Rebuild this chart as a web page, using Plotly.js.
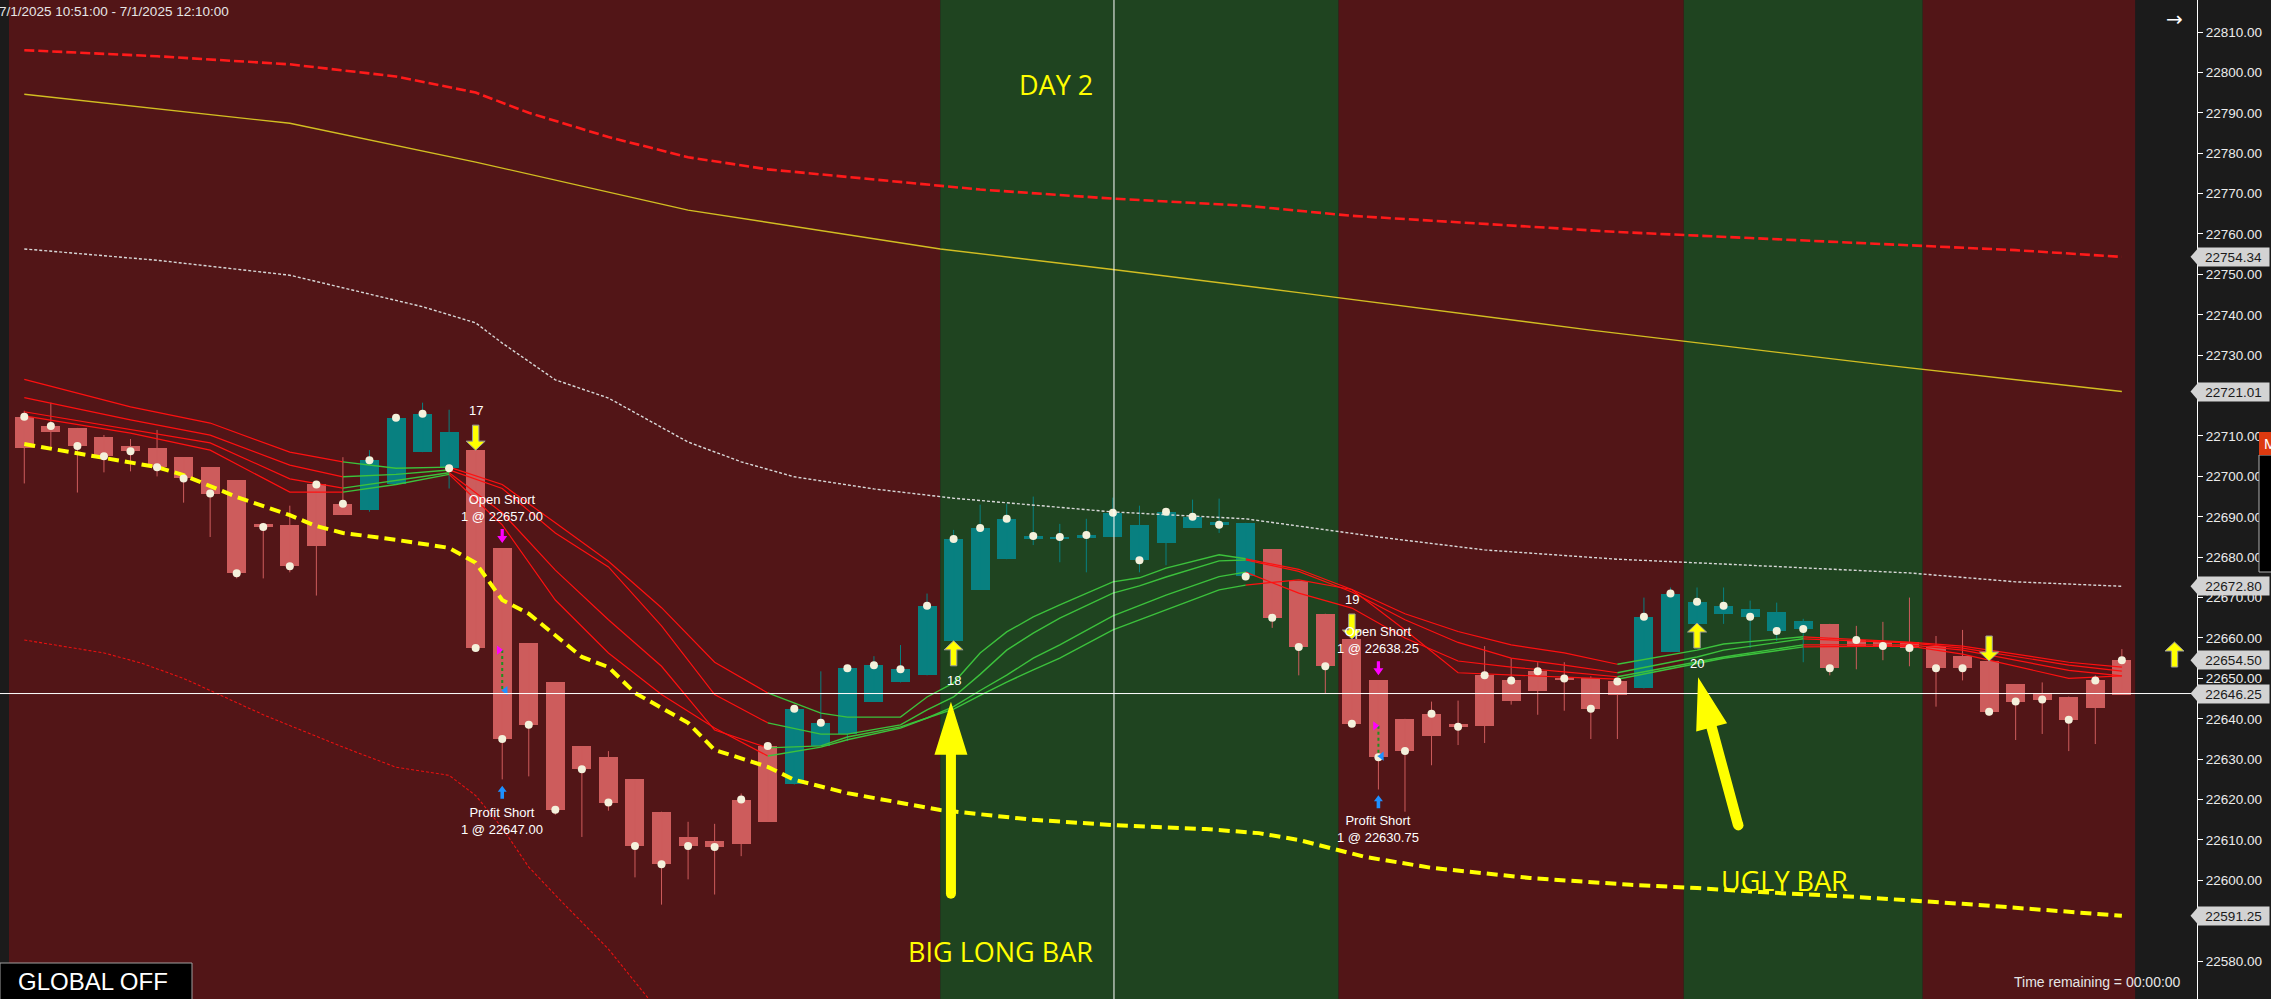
<!DOCTYPE html>
<html><head><meta charset="utf-8">
<script src="https://cdn.plot.ly/plotly-3.0.1.min.js"></script>
<style>html,body{margin:0;padding:0;background:#1b1b1b;overflow:hidden}#chart{width:2271px;height:999px}</style>
</head><body><div id="chart"></div>
<script>
// ---------------- DATA ----------------
const times = ["10:51","10:52","10:53","10:54","10:55","10:56","10:57","10:58","10:59","11:00",
"11:01","11:02","11:03","11:04","11:05","11:06","11:07","11:08","11:09","11:10",
"11:11","11:12","11:13","11:14","11:15","11:16","11:17","11:18","11:19","11:20",
"11:21","11:22","11:23","11:24","11:25","11:26","11:27","11:28","11:29","11:30",
"11:31","11:32","11:33","11:34","11:35","11:36","11:37","11:38","11:39","11:40",
"11:41","11:42","11:43","11:44","11:45","11:46","11:47","11:48","11:49","11:50",
"11:51","11:52","11:53","11:54","11:55","11:56","11:57","11:58","11:59","12:00",
"12:01","12:02","12:03","12:04","12:05","12:06","12:07","12:08","12:09","12:10"];
const openP = [22707,22711,22712,22709.75,22707.5,22707,22704.75,22702.25,22699,22688.25,
22688,22682.75,22690.5,22691.75,22698,22706,22711,22706.5,22682.25,22658.75,
22649,22633.25,22630.5,22625,22617,22610.75,22609.75,22609,22614.5,22623.75,
22633.25,22636.25,22644.25,22649,22650.75,22659.25,22672,22679.5,22684.5,22684.5,
22684.75,22685,22688,22683.5,22687.25,22688.75,22688.5,22682,22674,22666,
22659.75,22649.5,22640,22635.75,22638.75,22638.25,22644.5,22647,22649.5,22650,
22646,22647.5,22656.5,22663.5,22666,22667.25,22666.5,22664.25,22663.5,22657.75,
22659,22659,22658,22655.5,22654.25,22648.5,22646.5,22645.5,22642.75,22646];
const highP = [22716.25,22718.25,22712,22710.25,22709.25,22711.5,22704.75,22702.25,22699,22688.5,
22692.75,22698,22704.75,22706.5,22714.5,22718.25,22716.5,22706.5,22682.25,22658.75,
22649,22633.25,22632,22625,22617,22614.5,22614,22621.5,22633.25,22642.5,
22651.75,22652.5,22655.5,22658.25,22671,22686.75,22693,22693.25,22695,22688.25,
22689.5,22694.75,22692.75,22691.25,22694.25,22694.5,22688.5,22682,22674,22666,
22659.75,22649.5,22640,22644.25,22644.5,22658,22655,22654,22654,22650.5,
22649.25,22670,22672.5,22672.5,22672.5,22669.25,22668.75,22664.75,22663.5,22663,
22664,22670,22660.5,22662,22654.25,22648.5,22649,22645.5,22650.75,22657.25];
const lowP = [22698.25,22707,22696,22701,22701.25,22700,22693.5,22685,22674.75,22674.75,
22676.25,22670.5,22690.5,22691.25,22698,22706,22697,22657.5,22625,22625.75,
22616.25,22610.75,22617.25,22600.75,22594,22600.25,22596.5,22606,22614.5,22623.75,
22633.25,22634.5,22644.25,22649,22650.75,22659.25,22672,22679.5,22683,22678.75,
22676.25,22685,22676.25,22678,22687.25,22686,22675.25,22662.5,22650.75,22646.25,
22638.75,22622.5,22617,22628.5,22633.5,22634,22643.5,22641,22642,22635,
22635,22647.5,22656.5,22663.5,22663.5,22657.5,22659.25,22654,22650.75,22652.25,
22654.5,22653,22643,22649.5,22640.75,22634.75,22636.25,22632,22633.75,22646];
const closeP = [22714.75,22712.5,22707.5,22705,22706.25,22702.25,22699.5,22695.75,22676,22687.5,
22677.75,22698,22693.25,22704,22714.5,22715.5,22702,22657.5,22635,22638.5,
22617.5,22627.5,22619.25,22608.5,22604,22608.5,22608.25,22620,22633.25,22642.5,
22639,22652.5,22653.25,22652.25,22668,22684.5,22687.25,22689.5,22685.25,22685,
22685.5,22691,22679.25,22691.25,22690,22688,22675.25,22665,22657.75,22653,
22638.75,22630.5,22632,22641.25,22638,22650.75,22649.5,22651.75,22650,22642.5,
22649.25,22665.25,22671,22669,22668,22665.25,22661.75,22662.25,22652.5,22659.5,
22658,22657.5,22652.5,22652.5,22641.75,22644.25,22644.75,22639.75,22649.5,22654.5];
const trendDir = ["r","r","r","r","r","r","r","r","r","r","r","r","r","t","t","t","t","r","r","r",
"r","r","r","r","r","r","r","r","r","t","t","t","t","t","t","t","t","t","t","t",
"t","t","t","t","t","t","t","r","r","r","r","r","r","r","r","r","r","r","r","r",
"r","t","t","t","t","t","t","t","r","r","r","r","r","r","r","r","r","r","r","r"];

// session shading
const bandStart = [-0.576, 34.5, 49.5, 62.5, 71.5];
const bandEnd   = [34.5, 49.5, 62.5, 71.5, 79.5];
const bandKind  = ["red","green","red","green","red"];

// indicator lines (x = bar index)
const redBandIdx = [0,5,10,14,17,19,22,25,28,32,36,41,46,50,55,60,65,70,75,79];
const redBandVal = [22805.5,22804,22802,22799,22795,22790,22784,22779,22776,22773.5,22771,22768.75,22767,22764.5,22762.5,22760.5,22759,22757.5,22756,22754.34];
const goldIdx = [0,10,17,25,34.5,41,48,59,70,79];
const goldVal = [22794.6,22787.4,22777.8,22765.9,22756.3,22751.2,22745.5,22736.2,22727.6,22721.01];
const whiteIdx = [0,5,10,15,17,18,20,22,25,27,29,32,35,41,46,51,55,60,65,71,75,79];
const whiteVal = [22756.3,22753.5,22749.8,22742,22738,22733,22723.9,22719.4,22708.5,22703.6,22699.9,22696.9,22694.6,22691.2,22689.5,22685,22681.8,22679.5,22678,22676.1,22673.9,22672.8];
const yelIdx = [0,3,5,6,7,8,10,11,12,14,16,17,18,19,21,22,23,25,26,28,29,31,34.5,38,41,44.5,46.5,48,50.5,53,56.7,60.5,63,65.4,69,73,79];
const yelVal = [22708,22704.5,22702.3,22700.3,22697.6,22694.9,22690.4,22687.7,22686,22684.3,22682.3,22678.6,22669.4,22666,22655.3,22652.8,22646.4,22639,22632.3,22628.1,22624.9,22621.6,22617.4,22615,22613.7,22612.7,22611.7,22610,22605.8,22603.1,22600.6,22598.9,22598.1,22597.1,22595.9,22594.2,22591.25];
const lowBandIdx = [0,3,4.4,6,9,12,14,16,17,18,19,20.2,22,23.6];
const lowBandVal = [22659.5,22656.3,22653.8,22650,22641,22633,22628,22626,22621,22613,22603.3,22595,22583,22570];

// moving-average ribbon (4 lines)
const ribbonIdx = [0,4,7,10,12,14,16,18,20,22,24,26,28,30,31,33,34,35,36,37,38,39,41,42,43,45,46,48,50,52,54,56,58,60,63,64,67,71,73,77,79];
const ribbonA = [22724,22717.2,22713.2,22706,22703.6,22702,22702.3,22698,22688.5,22679,22667.5,22654,22646.4,22641.4,22640.4,22640.4,22645.4,22648.9,22656.3,22661.5,22665.2,22668.2,22673.9,22674.9,22677.3,22680.6,22679.6,22677,22672,22666,22661.6,22658.3,22656.3,22653.5,22657,22658.5,22660.3,22659,22658,22654,22652.8];
const ribbonB = [22719.5,22714,22710.2,22702.8,22699.9,22700.5,22701.6,22697,22686,22677.6,22663,22646,22639,22636.2,22636.2,22638.5,22642.2,22645.4,22651,22657,22661.2,22664.9,22671.1,22672.9,22675.1,22679.1,22679.3,22676.5,22671.4,22664.5,22658.9,22655,22653.3,22651.4,22655.3,22657,22659.8,22658.8,22657.5,22653.3,22651.8];
const ribbonC = [22716,22711.5,22708.3,22699.4,22697.1,22699,22700.9,22691,22676.8,22664.5,22653,22637.2,22632.8,22633.3,22635.5,22638,22640.2,22643,22647,22650.8,22655,22658.3,22665.5,22668,22670.6,22675.2,22676.3,22671.1,22667.4,22660,22654.3,22652.8,22651.6,22650.4,22654,22655.3,22658.3,22658.3,22657,22652,22650.6];
const ribbonD = [22715,22710.7,22706.5,22696.1,22696.1,22698,22700.5,22688,22669.4,22656.3,22646,22637.7,22630.8,22633,22634.8,22637.7,22640.2,22642.4,22645.8,22649.1,22652.1,22655,22662,22664.5,22667,22671.9,22673.1,22674.4,22672,22662,22651.4,22650.8,22650.3,22649.8,22653.6,22655,22657.8,22658,22656,22650,22650.6];
const ribbonSegStart = [0,12,16,28,46,60,67];
const ribbonSegTrend = ["dn","up","dn","up","dn","up","dn"];

// signals
const sigIdx = [17,35,50,63,74];
const sigPx  = [22706.5,22659.3,22659.75,22663.7,22654.3];
const sigDir = ["down","up","down","up","down"];
const sigNum = ["17","18","19","20",""];
const sigNumPx = [22716.4,22649.4,22669.6,22653.6,null];

// trades
const tradeIdx = [18,51];
const entryPx = [22657.00,22638.25];
const exitPx  = [22647.00,22630.75];
const entryLabelPx = [22692.1,22659.4];
const exitLabelPx  = [22614.8,22612.6];
const entryArrowPx = [22683.5,22650.8];
const exitArrowPx  = [22623.4,22621.1];

// price axis
const tickVals = [22580,22600,22610,22620,22630,22640,22650,22660,22670,22680,22690,22700,22710,22730,22740,22750,22760,22770,22780,22790,22800,22810];
const markerPx = [22754.34,22721.01,22672.80,22654.50,22646.25,22591.25];
const crossIdx = 41.04, crossPx = 22646.25;

// callouts
const calloutText = ["DAY 2","BIG LONG BAR","UGLY BAR"];
const calloutIdx = [38.86,36.75,66.3];
const calloutPx = [22796.9,22582.5,22599.85];
const bigArrowTipIdx = [34.9,63.04];
const bigArrowTipPx = [22644.2,22650.3];

// ---------------- BUILD ----------------
const idx = times.map((t,i)=>i);
const RED = "#cd5c5c", TEAL = "#088080";
const traces = [];

function bodyTrace(dirKey, color){
  const xs=[], base=[], h=[];
  idx.forEach(i=>{ if(trendDir[i]===dirKey){ xs.push(i); base.push(Math.min(openP[i],closeP[i])); h.push(Math.max(Math.abs(closeP[i]-openP[i]),0.55)); }});
  return {type:"bar", x:xs, y:h, base:base, width:0.716, marker:{color:color, line:{width:0}}, hoverinfo:"skip", showlegend:false};
}
function wickTrace(dirKey, color){
  const xs=[], ys=[];
  idx.forEach(i=>{ if(trendDir[i]===dirKey){ xs.push(i,i,null); ys.push(lowP[i],highP[i],null); }});
  return {type:"scatter", mode:"lines", x:xs, y:ys, line:{color:color,width:1}, hoverinfo:"skip", showlegend:false};
}
traces.push(bodyTrace("r",RED), bodyTrace("t",TEAL), wickTrace("r",RED), wickTrace("t",TEAL));

function line(x,y,color,width,dash){
  return {type:"scatter", mode:"lines", x:x, y:y, line:{color:color,width:width,dash:dash||"solid"}, hoverinfo:"skip", showlegend:false, connectgaps:false};
}
traces.push(line(redBandIdx,redBandVal,"#ff1a1a",2.6,"10px,4px"));
traces.push(line(goldIdx,goldVal,"#d2be22",1.4));
traces.push(line(whiteIdx,whiteVal,"#d8d8d8",1.4,"3px,2px"));
traces.push(line(lowBandIdx,lowBandVal,"#e81010",1.1,"3px,2px"));

function ribbonTrace(vals, trend, color, width){
  const xs=[], ys=[];
  ribbonSegStart.forEach((s,k)=>{
    if(ribbonSegTrend[k]!==trend) return;
    const e = k+1<ribbonSegStart.length ? ribbonSegStart[k+1] : Infinity;
    ribbonIdx.forEach((ix,j)=>{ if(ix>=s && ix<=e){ xs.push(ix); ys.push(vals[j]); }});
    xs.push(null); ys.push(null);
  });
  return line(xs,ys,color,width);
}
[ribbonA,ribbonB,ribbonC,ribbonD].forEach(v=>{
  traces.push(ribbonTrace(v,"dn","#ff1010",1.2));
  traces.push(ribbonTrace(v,"up","#3cc23c",1.4));
});
traces.push(line(yelIdx,yelVal,"#ffff00",4,"11px,6px"));

// close dots
traces.push({type:"scatter", mode:"markers", x:idx, y:closeP, marker:{color:"#f4f1dc", size:8, line:{width:0}}, hoverinfo:"skip", showlegend:false});

// trades: dotted connector + execution triangles
tradeIdx.forEach((t,k)=>{
  traces.push(line([t,t],[entryPx[k],exitPx[k]],"#1f8f1f",2,"dot"));
});
traces.push({type:"scatter", mode:"markers", x:tradeIdx.map(t=>t-0.12), y:entryPx, marker:{symbol:"triangle-right", color:"#ff00ff", size:8}, hoverinfo:"skip", showlegend:false});
traces.push({type:"scatter", mode:"markers", x:tradeIdx.map(t=>t+0.12), y:exitPx, marker:{symbol:"triangle-left", color:"#1e90ff", size:8}, hoverinfo:"skip", showlegend:false});

// ---------------- SHAPES ----------------
const shapes = [];
const bandColor = {red:"#521517", green:"#1f4420"};
bandStart.forEach((s,k)=>{
  shapes.push({type:"rect", xref:"x", yref:"paper", x0:s, x1:bandEnd[k], y0:0, y1:1, fillcolor:bandColor[bandKind[k]], line:{width:0}, layer:"below"});
});
// crosshair
shapes.push({type:"line", xref:"x", yref:"paper", x0:crossIdx, x1:crossIdx, y0:0, y1:1, line:{color:"#ffffff", width:1}, layer:"above"});
shapes.push({type:"line", xref:"paper", yref:"y", x0:0, x1:2191/2197, y0:crossPx, y1:crossPx, line:{color:"#ffffff", width:1}, layer:"above"});

function arrowPath(tx,ty,ex,ey,headL,headHW,shaftHW){
  const dx=ex-tx, dy=ey-ty, L=Math.hypot(dx,dy), ux=dx/L, uy=dy/L, nx=-uy, ny=ux;
  const bx=tx+ux*headL, by=ty+uy*headL;
  const pts=[[tx,ty],[bx+nx*headHW,by+ny*headHW],[bx+nx*shaftHW,by+ny*shaftHW],[ex+nx*shaftHW,ey+ny*shaftHW],[ex-nx*shaftHW,ey-ny*shaftHW],[bx-nx*shaftHW,by-ny*shaftHW],[bx-nx*headHW,by-ny*headHW]];
  return "M"+pts.map(p=>p[0].toFixed(1)+","+p[1].toFixed(1)).join(" L")+" Z";
}
function pixArrow(xa, ya, path, fill, lineColor, xref){
  return {type:"path", xref:xref||"x", yref:"y", xsizemode:"pixel", ysizemode:"pixel", xanchor:xa, yanchor:ya, path:path, fillcolor:fill, line:{color:lineColor||fill, width:lineColor?1:0}, layer:"above"};
}
sigIdx.forEach((s,k)=>{
  const sgn = sigDir[k]==="down" ? 1 : -1;
  shapes.push(pixArrow(s, sigPx[k], arrowPath(0,0,0,25*sgn,9,9.5,3.2), "#ffff00", "#9a9a9a"));
});
// pending signal arrow on the right strip
shapes.push(pixArrow(2174.5/2197, 22659, arrowPath(0,0,0,-25,9,9.5,3.2), "#ffff00", "#9a9a9a", "paper"));
tradeIdx.forEach((t,k)=>{
  shapes.push(pixArrow(t, entryArrowPx[k], arrowPath(0,0,0,14,7,5,1.6), "#ff00ff"));
  shapes.push(pixArrow(t, exitArrowPx[k], arrowPath(0,0,0,-13,6,4.5,1.8), "#1e90ff"));
});
// big callout arrows
shapes.push(pixArrow(bigArrowTipIdx[0], bigArrowTipPx[0], arrowPath(0,0,0,-192,53,16.5,5), "#ffff00"));
shapes.push({type:"circle", xref:"x", yref:"y", xsizemode:"pixel", ysizemode:"pixel", xanchor:bigArrowTipIdx[0], yanchor:bigArrowTipPx[0], x0:-5, x1:5, y0:-197, y1:-187, fillcolor:"#ffff00", line:{width:0}, layer:"above"});
shapes.push(pixArrow(bigArrowTipIdx[1], bigArrowTipPx[1], arrowPath(0,0,40,-148,52,16,5.2), "#ffff00"));
shapes.push({type:"circle", xref:"x", yref:"y", xsizemode:"pixel", ysizemode:"pixel", xanchor:bigArrowTipIdx[1], yanchor:bigArrowTipPx[1], x0:35, x1:45.4, y0:-153.2, y1:-142.8, fillcolor:"#ffff00", line:{width:0}, layer:"above"});

// axis price marker pointers
markerPx.forEach(p=>{
  shapes.push({type:"path", xref:"paper", yref:"y", xsizemode:"pixel", ysizemode:"pixel", xanchor:1, yanchor:p, path:"M-6.5,0 L1.5,9.2 L1.5,-9.2 Z", fillcolor:"#d3d3d3", line:{width:0}, layer:"above"});
});
// GLOBAL OFF box
shapes.push({type:"rect", xref:"paper", yref:"paper", x0:0, x1:192/2197, y0:-0.01, y1:36/999, fillcolor:"#000000", line:{color:"#a0a0a0", width:1}, layer:"above"});
// clipped overlay window on far right
shapes.push({type:"rect", xref:"paper", yref:"paper", x0:2259/2197, x1:2275/2197, y0:(999-572)/999, y1:(999-455)/999, fillcolor:"#000000", line:{color:"#b0b0b0", width:1}, layer:"above"});
shapes.push({type:"rect", xref:"paper", yref:"paper", x0:2259/2197, x1:2275/2197, y0:(999-455)/999, y1:(999-432)/999, fillcolor:"#dd3a10", line:{width:0}, layer:"above"});

// ---------------- ANNOTATIONS ----------------
const ann = [];
const wfont = {family:"Liberation Sans, Arial, sans-serif", size:13, color:"#ffffff"};
sigIdx.forEach((s,k)=>{
  if(sigNum[k]) ann.push({x:s, y:sigNumPx[k], xref:"x", yref:"y", xanchor:"center", text:sigNum[k], showarrow:false, font:wfont});
});
tradeIdx.forEach((t,k)=>{
  ann.push({x:t, y:entryLabelPx[k], xref:"x", yref:"y", xanchor:"center", text:"Open Short<br>1 @ "+entryPx[k].toFixed(2), showarrow:false, font:wfont});
  ann.push({x:t, y:exitLabelPx[k], xref:"x", yref:"y", xanchor:"center", text:"Profit Short<br>1 @ "+exitPx[k].toFixed(2), showarrow:false, font:wfont});
});
calloutText.forEach((c,k)=>{
  ann.push({x:calloutIdx[k], y:calloutPx[k], xref:"x", yref:"y", xanchor:"center", text:c, showarrow:false, font:{family:"Open Sans, Noto Sans, sans-serif", size:27, color:"#ffff00"}});
});
markerPx.forEach(p=>{
  ann.push({x:2233.5/2197, y:p, xref:"paper", yref:"y", xanchor:"center", yanchor:"middle", text:p.toFixed(2), showarrow:false, width:71, height:18, bgcolor:"#d3d3d3", borderpad:0, font:{family:"Liberation Sans, Arial, sans-serif", size:13.5, color:"#1a1a1a"}});
});
ann.push({x:-3/2197, y:(999-12)/999, xref:"paper", yref:"paper", xanchor:"left", yanchor:"middle", text:"7/1/2025 10:51:00 - 7/1/2025 12:10:00", showarrow:false, font:{family:"Liberation Sans, Arial, sans-serif", size:13.5, color:"#e6e6e6"}});
ann.push({x:2183/2197, y:17/999, xref:"paper", yref:"paper", xanchor:"right", yanchor:"middle", text:"Time remaining = 00:00:00", showarrow:false, font:{family:"Liberation Sans, Arial, sans-serif", size:14, color:"#e6e6e6"}});
ann.push({x:16/2197, y:18/999, xref:"paper", yref:"paper", xanchor:"left", yanchor:"middle", text:"GLOBAL OFF", showarrow:false, font:{family:"Liberation Sans, Arial, sans-serif", size:24, color:"#ffffff"}});
ann.push({x:2174/2197, y:(999-19)/999, xref:"paper", yref:"paper", xanchor:"center", yanchor:"middle", text:"→", showarrow:false, font:{family:"DejaVu Sans, sans-serif", size:20, color:"#ffffff"}});
ann.push({x:2262/2197, y:(999-443)/999, xref:"paper", yref:"paper", xanchor:"left", yanchor:"middle", text:"M", showarrow:false, font:{family:"Liberation Sans, Arial, sans-serif", size:15, color:"#ffffff"}});

const layout = {
  width:2271, height:999,
  margin:{l:0, r:74, t:0, b:0, pad:0},
  paper_bgcolor:"#1b1b1b", plot_bgcolor:"#1b1b1b",
  barmode:"overlay", bargap:0,
  showlegend:false, hovermode:false, dragmode:false,
  xaxis:{range:[-0.915,81.83], visible:false, fixedrange:true},
  yaxis:{range:[22570.64,22817.92], side:"right", showgrid:false, zeroline:false,
         showline:true, linecolor:"#ffffff", linewidth:1, ticks:"outside", ticklen:5, tickcolor:"#ffffff",
         tickmode:"array", tickvals:tickVals, ticktext:tickVals.map(v=>v.toFixed(2)), fixedrange:true,
         tickfont:{family:"Liberation Sans, Arial, sans-serif", size:13.5, color:"#ececec"}},
  shapes:shapes, annotations:ann
};
Plotly.newPlot("chart", traces, layout, {staticPlot:true, displayModeBar:false});
</script>
</body></html>
